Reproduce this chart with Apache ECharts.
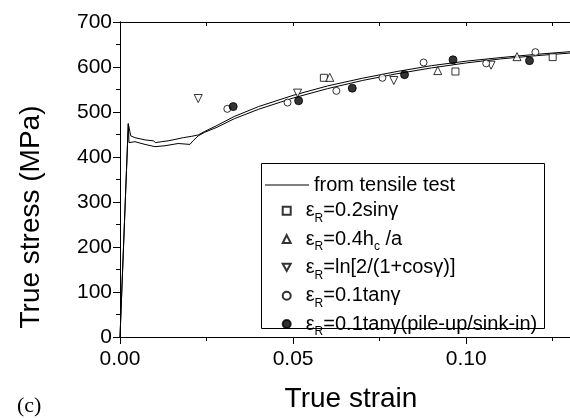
<!DOCTYPE html>
<html>
<head>
<meta charset="utf-8">
<script src="https://cdn.jsdelivr.net/npm/echarts@6/dist/echarts.min.js"></script>
<style>
  html, body { margin: 0; padding: 0; background: #fff; }
  #chart { width: 570px; height: 418px; }
</style>
</head>
<body>
<div id="chart"></div>
<script>
// tensile test curves (two runs, drawn as plain lines)
const tensileA = [
  [0, 0], [0.0024, 474], [0.0031, 447], [0.0043, 443], [0.0072, 438], [0.0096, 436],
  [0.0103, 432], [0.012, 434], [0.0139, 436], [0.0159, 439], [0.0183, 443], [0.0207, 446],
  [0.0226, 449], [0.0245, 457], [0.028, 470], [0.033, 490], [0.04, 512], [0.05, 537],
  [0.06, 558], [0.07, 575], [0.08, 590], [0.09, 603], [0.10, 613], [0.11, 621],
  [0.12, 628], [0.13, 634]
]
const tensileB = [
  [0, 0], [0.0024, 474], [0.0026, 432], [0.0043, 434], [0.0072, 428], [0.0101, 423],
  [0.013, 425], [0.0168, 430], [0.0202, 428], [0.0211, 436], [0.0226, 447], [0.0245, 455],
  [0.028, 466], [0.033, 485], [0.04, 506], [0.05, 531], [0.06, 552], [0.07, 570],
  [0.08, 585], [0.09, 598], [0.10, 609], [0.11, 618], [0.12, 625], [0.13, 631]
]

// indentation estimates
const sinData = [[0.0589, 576], [0.0969, 590], [0.125, 622]]
const hcData = [[0.0606, 577], [0.0918, 592], [0.1147, 623]]
const lnData = [[0.0226, 530], [0.0513, 542], [0.0791, 570], [0.1072, 604]]
const tanData = [[0.031, 507], [0.0484, 521], [0.0625, 547], [0.0758, 576], [0.0877, 610], [0.1058, 608], [0.12, 633]]
const pileData = [[0.0327, 512], [0.0516, 525], [0.0671, 553], [0.0822, 583], [0.0962, 616], [0.1183, 614]]

const xMajor = [0, 0.05, 0.10]
const xMinor = [0.025, 0.075, 0.125]
const xTop = [0.025, 0.05, 0.075, 0.10, 0.125]

const legendText = {
  tensile: 'from tensile test',
  sin: '{g|}{e|ε}{s|R}{a|=0.2sinγ}',
  hc: '{g|}{e|ε}{s|R}{a|=0.4h}{s|c}{a| /a}',
  ln: '{g|}{e|ε}{s|R}{a|=ln[2/(1+cosγ)]}',
  tan: '{g|}{e|ε}{s|R}{a|=0.1tanγ}',
  pile: '{g|}{e|ε}{s|R}{a|=0.1tanγ(pile-up/sink-in)}'
}

const FONT = '"Liberation Sans", Arial, sans-serif'
const BLACK = '#000'

const chart = echarts.init(document.getElementById('chart'))

const richText = {
  g: { width: 10, lineHeight: 23 },
  a: { fontSize: 20, lineHeight: 23, color: BLACK, fontFamily: FONT },
  e: { fontSize: 20, lineHeight: 23, color: BLACK, fontFamily: FONT },
  s: { fontSize: 12, lineHeight: 6, padding: [16, 0, 0, 0], color: BLACK, fontFamily: FONT }
}

const openStyle = { color: '#fff', borderColor: BLACK, borderWidth: 1 }

chart.setOption({
  animation: false,
  backgroundColor: '#fff',
  grid: { left: 120, right: 0, top: 22, bottom: 75 },
  xAxis: [
    {
      type: 'value',
      position: 'bottom',
      min: 0,
      max: 0.13,
      interval: 0.05,
      name: 'True strain',
      nameLocation: 'middle',
      nameGap: 48,
      nameTextStyle: { fontSize: 28, fontFamily: FONT, color: BLACK, padding: [0, 0, 0, 12] },
      axisLine: { lineStyle: { color: BLACK, width: 1 } },
      axisTick: { customValues: xMajor, length: 7, lineStyle: { color: BLACK } },
      axisLabel: {
        customValues: xMajor,
        margin: 12,
        fontSize: 21,
        fontFamily: FONT,
        color: BLACK,
        formatter: (v) => v.toFixed(2)
      },
      splitLine: { show: false }
    },
    {
      type: 'value',
      position: 'bottom',
      min: 0,
      max: 0.13,
      axisLine: { show: false },
      axisTick: { customValues: xMinor, length: 4, lineStyle: { color: BLACK } },
      axisLabel: { show: false },
      splitLine: { show: false }
    },
    {
      type: 'value',
      position: 'top',
      min: 0,
      max: 0.13,
      axisLine: { lineStyle: { color: BLACK, width: 1 } },
      axisTick: { customValues: xTop, inside: true, length: 4, lineStyle: { color: BLACK } },
      axisLabel: { show: false },
      splitLine: { show: false }
    }
  ],
  yAxis: [
    {
      type: 'value',
      position: 'left',
      min: 0,
      max: 700,
      interval: 100,
      name: 'True stress (MPa)',
      nameLocation: 'middle',
      nameGap: 75,
      nameTextStyle: { fontSize: 28, fontFamily: FONT, color: BLACK, padding: [0, 75, 0, 0] },
      axisLine: { show: true, lineStyle: { color: BLACK, width: 1 } },
      axisTick: { length: 7, lineStyle: { color: BLACK } },
      minorTick: { show: true, splitNumber: 2, length: 4, lineStyle: { color: BLACK } },
      axisLabel: { margin: 8, fontSize: 21, fontFamily: FONT, color: BLACK },
      splitLine: { show: false }
    },
    {
      type: 'value',
      position: 'right',
      min: 0,
      max: 700,
      interval: 100,
      axisLine: { show: true, lineStyle: { color: BLACK, width: 1 } },
      axisTick: { inside: true, length: 5, lineStyle: { color: BLACK } },
      minorTick: { show: true, splitNumber: 2, length: 3, lineStyle: { color: BLACK } },
      axisLabel: { show: false },
      splitLine: { show: false }
    }
  ],
  legend: [
    {
      orient: 'vertical',
      left: 265,
      top: 173.5,
      padding: 0,
      itemWidth: 44,
      itemHeight: 1,
      data: [{ name: 'tensile', icon: 'rect' }],
      formatter: (name) => legendText[name],
      textStyle: { fontSize: 20, lineHeight: 23, fontFamily: FONT, color: BLACK }
    },
    {
      orient: 'vertical',
      left: 281.7,
      top: 196.8,
      padding: 0,
      itemGap: 0.3,
      itemWidth: 8,
      itemHeight: 8,
      data: ['sin', 'hc', 'ln', 'tan', 'pile'],
      formatter: (name) => legendText[name],
      textStyle: { fontSize: 20, lineHeight: 23, fontFamily: FONT, color: BLACK, rich: richText }
    }
  ],
  graphic: [
    {
      type: 'rect',
      shape: { x: 261.5, y: 163.5, width: 283, height: 165 },
      style: { fill: null, stroke: BLACK, lineWidth: 1 },
      z: 10
    },
    {
      type: 'text',
      left: 17,
      top: 395,
      style: { text: '(c)', fontSize: 22, fontFamily: '"Liberation Serif", "Times New Roman", serif', fill: BLACK }
    }
  ],
  series: [
    {
      name: 'tensile',
      type: 'line',
      data: tensileA,
      symbol: 'none',
      lineStyle: { color: BLACK, width: 1 },
      itemStyle: { color: BLACK },
      z: 3
    },
    {
      name: 'tensile2',
      type: 'line',
      data: tensileB,
      symbol: 'none',
      lineStyle: { color: BLACK, width: 1 },
      itemStyle: { color: BLACK },
      z: 3
    },
    {
      name: 'sin',
      type: 'scatter',
      data: sinData,
      symbol: 'rect',
      symbolSize: 7,
      itemStyle: openStyle,
      z: 4
    },
    {
      name: 'hc',
      type: 'scatter',
      data: hcData,
      symbol: 'triangle',
      symbolSize: 8,
      itemStyle: openStyle,
      z: 4
    },
    {
      name: 'ln',
      type: 'scatter',
      data: lnData,
      symbol: 'path://M0,0 L10,0 L5,9 Z',
      symbolSize: 8,
      itemStyle: openStyle,
      z: 4
    },
    {
      name: 'tan',
      type: 'scatter',
      data: tanData,
      symbol: 'circle',
      symbolSize: 7,
      itemStyle: openStyle,
      z: 4
    },
    {
      name: 'pile',
      type: 'scatter',
      data: pileData,
      symbol: 'circle',
      symbolSize: 8,
      itemStyle: { color: BLACK, borderColor: BLACK, borderWidth: 1 },
      z: 4
    }
  ]
})
</script>
</body>
</html>
